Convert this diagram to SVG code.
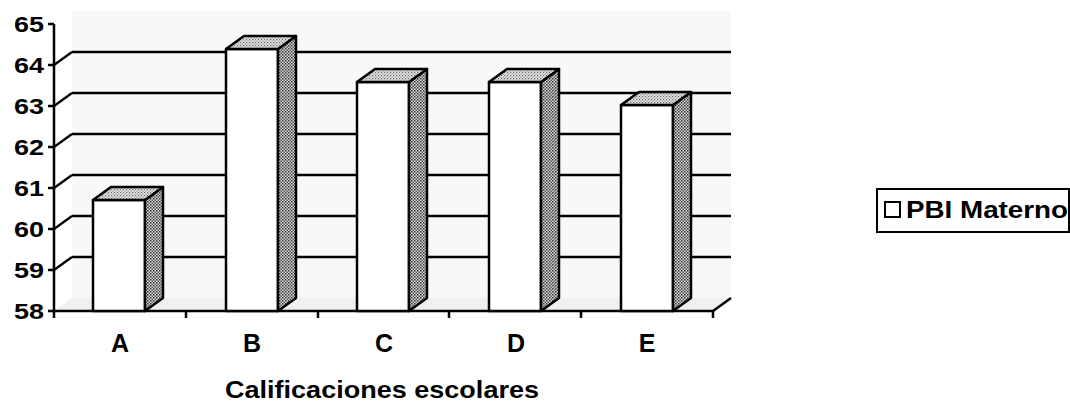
<svg xmlns="http://www.w3.org/2000/svg" width="1070" height="404" viewBox="0 0 1070 404">
<defs>
<pattern id="side" width="3" height="3" patternUnits="userSpaceOnUse">
<rect width="3" height="3" fill="#d8d8d8"/>
<rect width="1.5" height="1.5" fill="#333"/>
<rect x="1.5" y="1.5" width="1.5" height="1.5" fill="#555"/>
</pattern>
<pattern id="top" width="3" height="3" patternUnits="userSpaceOnUse">
<rect width="3" height="3" fill="#e6e6e6"/>
<rect width="1.2" height="1.2" fill="#666"/>
<rect x="1.5" y="1.5" width="1.2" height="1.2" fill="#888"/>
</pattern>
</defs>
<style>
.ln{stroke:#000;stroke-width:2.5;fill:none}
.grid{stroke:#000;stroke-width:2.3}
.face{fill:#fff;stroke:#000;stroke-width:2.5;stroke-linejoin:round}
.sd{fill:url(#side);stroke:#000;stroke-width:2.5;stroke-linejoin:round}
.tp{fill:url(#top);stroke:#000;stroke-width:2.5;stroke-linejoin:round}
text{font-family:"Liberation Sans",Arial,sans-serif;font-weight:bold;fill:#000}
.yl{font-size:22px;text-anchor:end}
.xl{font-size:25px;text-anchor:middle}
</style>
<rect width="1070" height="404" fill="#fff"/>
<g id="walls">
<rect x="72" y="11" width="659" height="287" fill="#f8f8f8"/>
<polygon points="54,311 713,311 731,298 72,298" fill="#f0f0f0"/>
</g>
<g id="axes">
<g class="grid">
<line x1="72" y1="257" x2="731" y2="257"/>
<line x1="72" y1="216" x2="731" y2="216"/>
<line x1="72" y1="175" x2="731" y2="175"/>
<line x1="72" y1="134" x2="731" y2="134"/>
<line x1="72" y1="93" x2="731" y2="93"/>
<line x1="72" y1="52" x2="731" y2="52"/>
<line x1="54" y1="270" x2="72" y2="257"/>
<line x1="54" y1="229" x2="72" y2="216"/>
<line x1="54" y1="188" x2="72" y2="175"/>
<line x1="54" y1="147" x2="72" y2="134"/>
<line x1="54" y1="106" x2="72" y2="93"/>
<line x1="54" y1="65" x2="72" y2="52"/>
</g>
<path class="ln" d="M54,24 V311 H713 L731,298"/>
<path class="ln" d="M48,24H54 M48,65H54 M48,106H54 M48,147H54 M48,188H54 M48,229H54 M48,270H54 M48,311H54"/>
<path class="ln" d="M54,311V318 M186,311V318 M318,311V318 M449,311V318 M581,311V318 M713,311V318"/>
</g>
<g id="bar-A">
<rect class="face" x="93" y="200" width="52" height="111"/>
<polygon class="sd" points="145,200 163,187 163,298 145,311"/>
<polygon class="tp" points="93,200 111,187 163,187 145,200"/>
</g>
<g id="bar-B">
<rect class="face" x="226" y="49" width="52" height="262"/>
<polygon class="sd" points="278,49 296,36 296,298 278,311"/>
<polygon class="tp" points="226,49 244,36 296,36 278,49"/>
</g>
<g id="bar-C">
<rect class="face" x="357" y="82" width="52" height="229"/>
<polygon class="sd" points="409,82 427,69 427,298 409,311"/>
<polygon class="tp" points="357,82 375,69 427,69 409,82"/>
</g>
<g id="bar-D">
<rect class="face" x="489" y="82" width="52" height="229"/>
<polygon class="sd" points="541,82 559,69 559,298 541,311"/>
<polygon class="tp" points="489,82 507,69 559,69 541,82"/>
</g>
<g id="bar-E">
<rect class="face" x="621" y="105" width="52" height="206"/>
<polygon class="sd" points="673,105 691,92 691,298 673,311"/>
<polygon class="tp" points="621,105 639,92 691,92 673,105"/>
</g>
<g id="y-labels">
<text class="yl" x="44" y="32" textLength="30" lengthAdjust="spacingAndGlyphs">65</text>
<text class="yl" x="44" y="73" textLength="30" lengthAdjust="spacingAndGlyphs">64</text>
<text class="yl" x="44" y="114" textLength="30" lengthAdjust="spacingAndGlyphs">63</text>
<text class="yl" x="44" y="155" textLength="30" lengthAdjust="spacingAndGlyphs">62</text>
<text class="yl" x="44" y="196" textLength="30" lengthAdjust="spacingAndGlyphs">61</text>
<text class="yl" x="44" y="237" textLength="30" lengthAdjust="spacingAndGlyphs">60</text>
<text class="yl" x="44" y="278" textLength="30" lengthAdjust="spacingAndGlyphs">59</text>
<text class="yl" x="44" y="319" textLength="30" lengthAdjust="spacingAndGlyphs">58</text>
</g>
<g id="x-labels">
<text class="xl" x="120" y="352">A</text>
<text class="xl" x="252" y="352">B</text>
<text class="xl" x="384" y="352">C</text>
<text class="xl" x="516" y="352">D</text>
<text class="xl" x="647" y="352">E</text>
</g>
<g id="title">
<text x="225" y="398" font-size="24" textLength="314" lengthAdjust="spacingAndGlyphs">Calificaciones escolares</text>
</g>
<g id="legend">
<rect x="877" y="189" width="192" height="43" fill="#fff" stroke="#000" stroke-width="2"/>
<rect x="885" y="202" width="15" height="15" fill="#fff" stroke="#000" stroke-width="2"/>
<text x="906" y="218" font-size="24" textLength="162" lengthAdjust="spacingAndGlyphs">PBI Materno</text>
</g>
</svg>
